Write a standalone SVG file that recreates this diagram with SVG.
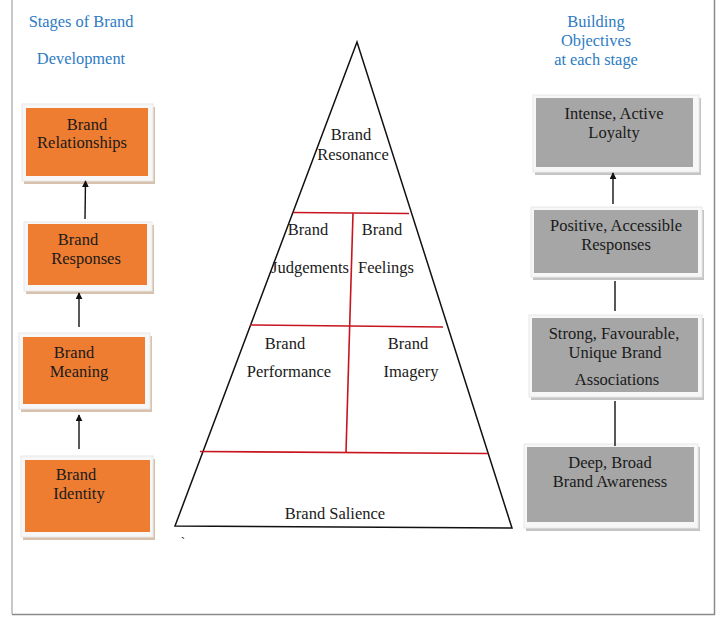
<svg xmlns="http://www.w3.org/2000/svg" width="716" height="618" viewBox="0 0 716 618">
<defs>
<style>
text{font-family:"Liberation Serif","Times New Roman",serif;font-size:16.5px;fill:#1a1a1a;text-anchor:middle}
.hd{fill:#2E7BC4;font-size:16.4px}
.frame{fill:#f7f7f7;stroke:#e8e8e8;stroke-width:1}
.osh{fill:#d8c2ae}
.gsh{fill:#c4c4c4}
.or{fill:#EE7D32}
.gr{fill:#A6A6A6}
.conn{stroke:#111;stroke-width:1.4;fill:none}
.red{stroke:#C8141E;stroke-width:1.6;fill:none}
</style>
<marker id="ah" viewBox="0 0 10 10" refX="9" refY="5" markerWidth="7" markerHeight="7" orient="auto-start-reverse" markerUnits="userSpaceOnUse">
<path d="M0,0 L10,5 L0,10 z" fill="#111"/>
</marker>
</defs>
<rect width="716" height="618" fill="#fff"/>
<line x1="12" y1="0" x2="12" y2="614" stroke="#c8c8c8" stroke-width="2"/>
<line x1="12" y1="614.5" x2="715" y2="614.5" stroke="#8a8a8a" stroke-width="1.5"/>
<line x1="714.5" y1="0" x2="714.5" y2="615" stroke="#8a8a8a" stroke-width="1.5"/>

<g id="headers">
<text class="hd" x="81" y="27">Stages of Brand</text>
<text class="hd" x="81" y="64">Development</text>
<text class="hd" x="596" y="27">Building</text>
<text class="hd" x="596" y="46">Objectives</text>
<text class="hd" x="596" y="65">at each stage</text>
</g>

<g id="n-relationships">
<rect class="osh" x="24" y="107" width="131" height="77"/>
<rect class="frame" x="22" y="104" width="131" height="77"/>
<rect class="or" x="26" y="108" width="122" height="68"/>
<text x="87" y="130">Brand</text>
<text x="82" y="148">Relationships</text>
</g>
<g id="n-responses">
<rect class="osh" x="26" y="225" width="128" height="69"/>
<rect class="frame" x="24" y="222" width="128" height="69"/>
<rect class="or" x="28" y="224" width="119" height="61"/>
<text x="78" y="245">Brand</text>
<text x="86" y="264">Responses</text>
</g>
<g id="n-meaning">
<rect class="osh" x="21" y="336" width="131" height="76"/>
<rect class="frame" x="19" y="333" width="131" height="76"/>
<rect class="or" x="23" y="337" width="122" height="67"/>
<text x="74" y="358">Brand</text>
<text x="79" y="377">Meaning</text>
</g>
<g id="n-identity">
<rect class="osh" x="23" y="459" width="132" height="81"/>
<rect class="frame" x="21" y="456" width="132" height="81"/>
<rect class="or" x="25" y="460" width="125" height="72"/>
<text x="76" y="480">Brand</text>
<text x="79" y="499">Identity</text>
</g>

<g id="n-loyalty">
<rect class="gsh" x="535" y="98" width="166" height="77"/>
<rect class="frame" x="533" y="95" width="166" height="77"/>
<rect class="gr" x="536" y="98" width="157" height="69"/>
<text x="614" y="119">Intense, Active</text>
<text x="614" y="138">Loyalty</text>
</g>
<g id="n-positive">
<rect class="gsh" x="533" y="210" width="171" height="70"/>
<rect class="frame" x="531" y="207" width="171" height="70"/>
<rect class="gr" x="534" y="210" width="164" height="63"/>
<text x="616" y="231">Positive, Accessible</text>
<text x="616" y="250">Responses</text>
</g>
<g id="n-strong">
<rect class="gsh" x="531" y="318" width="173" height="82"/>
<rect class="frame" x="529" y="315" width="173" height="82"/>
<rect class="gr" x="532" y="318" width="166" height="74"/>
<text x="614" y="339">Strong, Favourable,</text>
<text x="615" y="358">Unique Brand</text>
<text x="617" y="385">Associations</text>
</g>
<g id="n-deep">
<rect class="gsh" x="526" y="447" width="174" height="84"/>
<rect class="frame" x="524" y="444" width="174" height="84"/>
<rect class="gr" x="527" y="447" width="167" height="75"/>
<text x="610" y="468">Deep, Broad</text>
<text x="610" y="487">Brand Awareness</text>
</g>

<g id="pyramid">
<polygon points="357,42 175,526 512,528" fill="none" stroke="#111" stroke-width="1.5" stroke-linejoin="miter"/>
<line class="red" x1="293" y1="212.5" x2="409" y2="213.5"/>
<line class="red" x1="353" y1="213" x2="346" y2="452"/>
<line class="red" x1="250" y1="325" x2="443" y2="327"/>
<line class="red" x1="200" y1="451.5" x2="488" y2="453.5"/>
<text x="351" y="140">Brand</text>
<text x="353" y="160">Resonance</text>
<text x="308" y="235">Brand</text>
<text x="310" y="273">Judgements</text>
<text x="382" y="235">Brand</text>
<text x="386" y="273">Feelings</text>
<text x="285" y="349">Brand</text>
<text x="289" y="377">Performance</text>
<text x="408" y="349">Brand</text>
<text x="411" y="377">Imagery</text>
<text x="335" y="519">Brand Salience</text>
<text x="183" y="546" style="font-size:13px">`</text>
</g>

<g id="connectors">
<line class="conn" x1="85" y1="219" x2="85.5" y2="181" marker-end="url(#ah)"/>
<line class="conn" x1="79" y1="327" x2="79" y2="293" marker-end="url(#ah)"/>
<line class="conn" x1="79" y1="449" x2="79" y2="415" marker-end="url(#ah)"/>
<line class="conn" x1="613" y1="204" x2="613" y2="173" marker-end="url(#ah)"/>
<line class="conn" x1="615" y1="281" x2="615" y2="311"/>
<line class="conn" x1="615" y1="401" x2="615" y2="446"/>
</g>
</svg>
